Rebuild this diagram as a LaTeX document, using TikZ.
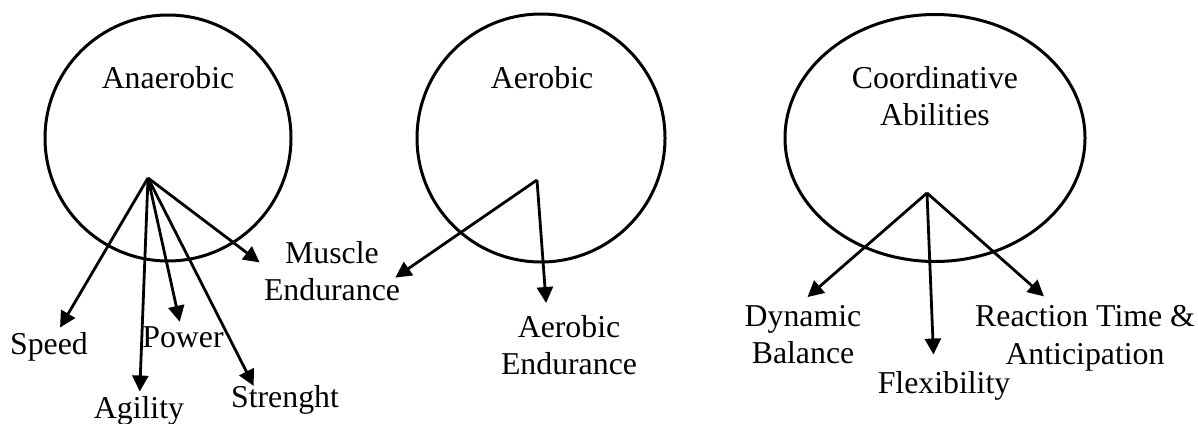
\documentclass[tikz,border=0pt]{standalone}
\usepackage{fontspec}
\setmainfont{Liberation Serif}
\usetikzlibrary{arrows.meta,shapes.geometric}

\begin{document}
\begin{tikzpicture}[
  x=0.5pt, y=-0.5pt,
  ring/.style={draw, circle, line width=1.5pt, inner sep=0pt},
  oval/.style={draw, ellipse, line width=1.5pt, inner sep=0pt},
  lbl/.style={font=\fontsize{15.9}{18.75}\selectfont, inner sep=2pt, align=center},
  arr/.style={-{Triangle[length=8pt, width=8pt]}, line width=1.4pt}
]
\useasboundingbox (0,0) rectangle (1198,423);

% the three groups
\node[ring, minimum size=123pt] (anaer) at (168,138) {};
\node[ring, minimum size=124pt] (aer) at (541,138) {};
\node[oval, minimum width=150pt, minimum height=123.5pt] (coord) at (935,138) {};

\node[lbl, anchor=base] (anaerT) at (168,88) {Anaerobic};
\node[lbl, anchor=base] (aerT) at (542,88) {Aerobic};
\node[lbl, anchor=north] (coordT) at (935,62) {Coordinative\\Abilities};

\coordinate (o1) at (148,178);
\coordinate (o2) at (537,180);
\coordinate (o3) at (927,193);

% abilities
\node[lbl, anchor=base] (speed) at (49,354) {Speed};
\node[lbl, anchor=base] (agility) at (139,418) {Agility};
\node[lbl, anchor=base] (power) at (183,347) {Power};
\node[lbl, anchor=base] (strenght) at (285,407) {Strenght};
\node[lbl, anchor=north] (mend) at (332,237) {Muscle\\Endurance};
\node[lbl, anchor=north] (aerend) at (569,311) {Aerobic\\Endurance};
\node[lbl, anchor=north] (dyn) at (803,301) {Dynamic\\Balance};
\node[lbl, anchor=base] (flex) at (944,393) {Flexibility};
\node[lbl, anchor=north] (react) at (1085,301) {Reaction Time \&\\Anticipation};

\draw[arr] (o1) -- (speed);
\draw[arr] (o1) -- (agility);
\draw[arr] (o1) -- (power);
\draw[arr, shorten >=-3pt] (o1) -- (strenght.151);
\draw[arr] (o1) -- (mend.173);
\draw[arr, shorten >=-5.5pt] (o2) -- (mend.east);
\draw[arr, shorten >=4pt] (o2) -- (aerend.123);
\draw[arr, shorten >=3pt] (o3) -- (dyn.north);
\draw[arr, shorten >=6pt] (o3) -- (flex.118);
\draw[arr, shorten >=3.5pt] (o3) -- (react.134);
\end{tikzpicture}
\end{document}
